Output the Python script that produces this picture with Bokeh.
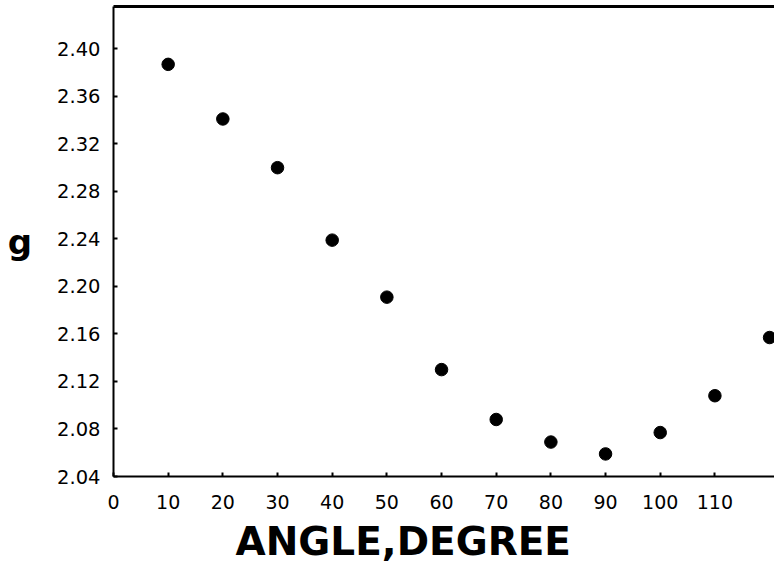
from bokeh.plotting import figure
from bokeh.models import FixedTicker, Title, Range1d, LinearAxis
from bokeh.embed import file_html
from bokeh.resources import INLINE

# data
angles = [10, 20, 30, 40, 50, 60, 70, 80, 90, 100, 110, 120]
g_values = [2.387, 2.341, 2.300, 2.239, 2.191, 2.130, 2.088, 2.069, 2.059, 2.077, 2.108, 2.157]
x_ticks = [0, 10, 20, 30, 40, 50, 60, 70, 80, 90, 100, 110]
y_ticks = [2.04, 2.08, 2.12, 2.16, 2.20, 2.24, 2.28, 2.32, 2.36, 2.40]
y_tick_labels = ["2.04", "2.08", "2.12", "2.16", "2.20", "2.24", "2.28", "2.32", "2.36", "2.40"]
x_title = "ANGLE,DEGREE"
y_title = "g"

p = figure(width=774, height=570, output_backend="svg", toolbar_location=None,
           x_range=Range1d(0, 120.9), y_range=Range1d(2.04, 2.4357),
           min_border_left=113, min_border_top=6, min_border_right=0,
           min_border_bottom=94)

p.scatter(angles, g_values, size=12.5, color="black")

p.grid.visible = False
p.background_fill_color = "white"
p.border_fill_color = "white"
p.outline_line_color = None

font = "DejaVu Sans"

xa = p.below[0]
xa.ticker = FixedTicker(ticks=x_ticks)
xa.major_tick_in = 4
xa.major_tick_out = 0
xa.minor_tick_line_color = None
xa.axis_line_width = 2
xa.major_tick_line_width = 2
xa.major_label_standoff = 18
xa.major_label_text_font = font
xa.major_label_text_font_size = "19px"
xa.major_label_text_color = "black"

ya = p.left[0]
ya.ticker = FixedTicker(ticks=y_ticks)
ya.major_label_overrides = {t: l for t, l in zip(y_ticks, y_tick_labels)}
ya.major_tick_in = 4
ya.major_tick_out = 0
ya.minor_tick_line_color = None
ya.axis_line_width = 2
ya.major_tick_line_width = 2
ya.major_label_standoff = 13
ya.major_label_text_font = font
ya.major_label_text_font_size = "19.5px"
ya.major_label_text_color = "black"
ya.axis_label = y_title
ya.axis_label_orientation = "horizontal"
ya.axis_label_text_font = font
ya.axis_label_text_font_style = "bold"
ya.axis_label_text_font_size = "34px"
ya.axis_label_standoff = 22
ya.axis_label_text_color = "black"

# top frame line (the reference has no right border: it is cut off)
top = LinearAxis(major_tick_line_color=None, minor_tick_line_color=None,
                 major_label_text_font_size="0px", major_label_standoff=0,
                 major_tick_in=0, major_tick_out=0,
                 axis_line_width=3, axis_line_color="black")
top.ticker = FixedTicker(ticks=[])
p.add_layout(top, "above")

t = Title(text=x_title, align="left", offset=122, text_font=font,
          text_font_style="bold", text_font_size="39px", text_color="black",
          standoff=10)
p.add_layout(t, "below")

open("out.html", "w").write(file_html(p, INLINE))
